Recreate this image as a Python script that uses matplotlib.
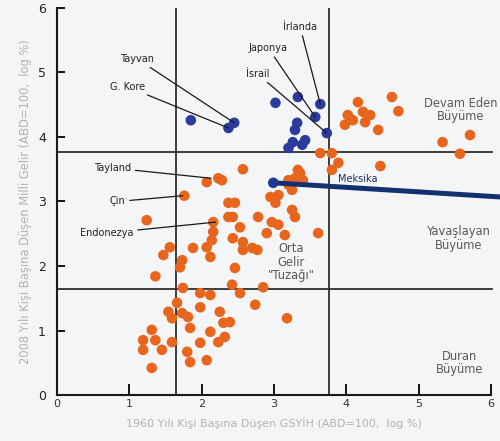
import matplotlib
matplotlib.use("Agg")
import matplotlib.pyplot as plt

plt.rcParams['font.family'] = ['DejaVu Sans']

# Countries that stayed below the "middle income trap" band (orange)
orange_x = [4.16, 4.63, 4.72, 4.02, 3.98, 4.23, 4.33, 4.26, 4.09, 4.44, 5.33, 5.71, 5.57,
            3.64, 3.80, 3.89, 3.80, 4.47, 3.36, 3.20, 3.33, 3.29, 3.40, 3.20, 3.25, 3.06,
            2.95, 3.02, 2.57, 2.28, 2.23, 2.07, 1.76, 2.37, 2.46, 2.37, 2.43, 2.78, 2.97,
            3.06, 3.29, 3.25, 2.53, 2.16, 2.16, 2.14, 1.24, 2.90, 3.15, 3.61, 2.43, 2.57,
            2.70, 2.77, 2.57, 1.56, 1.47, 1.88, 2.07, 2.12, 1.73, 1.70, 1.36, 2.46, 2.42,
            2.53, 2.85, 2.74, 3.18, 1.74, 1.98, 2.12, 1.66, 1.54, 1.59, 1.73, 1.81, 1.84,
            1.98, 2.25, 2.30, 1.31, 1.19, 1.19, 1.36, 1.45, 1.59, 1.31, 1.80, 1.84, 2.07,
            1.98, 2.12, 2.23, 2.32, 2.39]
orange_y = [4.54, 4.62, 4.40, 4.34, 4.19, 4.39, 4.34, 4.23, 4.26, 4.11, 3.92, 4.03, 3.74,
            3.75, 3.75, 3.60, 3.49, 3.55, 3.44, 3.33, 3.49, 3.36, 3.33, 3.26, 3.18, 3.10,
            3.07, 2.98, 3.50, 3.33, 3.36, 3.30, 3.09, 2.98, 2.98, 2.76, 2.76, 2.76, 2.68,
            2.64, 2.76, 2.87, 2.60, 2.68, 2.53, 2.40, 2.71, 2.51, 2.48, 2.51, 2.43, 2.37,
            2.28, 2.25, 2.25, 2.29, 2.17, 2.28, 2.29, 2.14, 2.09, 1.98, 1.84, 1.97, 1.71,
            1.58, 1.67, 1.40, 1.19, 1.66, 1.58, 1.55, 1.43, 1.29, 1.19, 1.27, 1.21, 1.04,
            1.36, 1.29, 1.12, 1.01, 0.85, 0.70, 0.85, 0.70, 0.82, 0.42, 0.67, 0.51, 0.54,
            0.81, 0.98, 0.82, 0.90, 1.13]

# Countries that escaped to high income (blue)
blue_x = [1.85, 2.37, 2.45, 3.02, 3.33, 3.64, 3.57, 3.32, 3.29, 3.73, 3.20, 3.39, 3.26, 3.43]
blue_y = [4.26, 4.14, 4.22, 4.53, 4.62, 4.51, 4.31, 4.22, 4.11, 4.06, 3.83, 3.88, 3.92, 3.95]

# Mexico and its trajectory
mexico_path_x = [2.99, 6.13]
mexico_path_y = [3.29, 3.07]

# Band thresholds
band_x = [1.65, 3.76]
band_y = [1.64, 3.77]

ticks = [0, 1, 2, 3, 4, 5, 6]
tick_labels = ['0', '1', '2', '3', '4', '5', '6']

# Country labels: (text, label position, point)
country_labels = [
    ("Tayvan", (1.11, 5.21), (2.45, 4.22)),
    ("G. Kore", (0.97, 4.78), (2.37, 4.14)),
    ("İrlanda", (3.36, 5.71), (3.64, 4.51)),
    ("Japonya", (2.92, 5.38), (3.57, 4.31)),
    ("İsrail", (2.77, 4.98), (3.73, 4.06)),
    ("Tayland", (0.77, 3.52), (2.13, 3.36)),
    ("Çin", (0.84, 3.00), (1.74, 3.09)),
    ("Endonezya", (0.69, 2.51), (2.19, 2.68)),
]

region_labels = [
    ("Devam Eden\nBüyüme", 5.58, 4.42),
    ("Yavaşlayan\nBüyüme", 5.55, 2.43),
    ("Duran\nBüyüme", 5.57, 0.50),
    ("Orta\nGelir\n\"Tuzağı\"", 3.24, 2.06),
]

bg = '#f4f5f6'
fig = plt.figure(figsize=(5.0, 4.41), dpi=100, facecolor=bg)
ax = fig.add_axes([0.114, 0.1043, 0.868, 0.8776])
ax.set_facecolor(bg)
ax.set_xlim(0, 6)
ax.set_ylim(0, 6)

line_col = '#2e2e2e'
for xv in band_x:
    ax.plot([xv, xv], [0, 6], color=line_col, lw=1.3, zorder=1)
for yv in band_y:
    ax.plot([0, 6.02], [yv, yv], color=line_col, lw=1.3, zorder=1, clip_on=False)

ax.scatter(orange_x, orange_y, s=58, color='#e8651e', edgecolors='none', zorder=3)
ax.scatter(blue_x, blue_y, s=58, color='#2b3c9c', edgecolors='none', zorder=4)

ax.plot(mexico_path_x, mexico_path_y, color='#14306e', lw=3.6, zorder=5,
        solid_capstyle='butt', clip_on=False)
ax.scatter([mexico_path_x[0]], [mexico_path_y[0]], s=58, color='#1f3a8f',
           edgecolors='none', zorder=6)
ax.text(3.88, 3.35, "Meksika", fontsize=7, color='#1e2f66', ha='left', va='center', zorder=6)

for text, (tx, ty), (px, py) in country_labels:
    ax.annotate(text, xy=(px, py), xytext=(tx, ty), fontsize=7, color='#222222',
                ha='center', va='center', zorder=7,
                arrowprops=dict(arrowstyle='-', color='#1a1a1a', lw=0.9,
                                shrinkA=1, shrinkB=0))

for text, tx, ty in region_labels:
    ax.text(tx, ty, text, fontsize=8.3, color='#5a5a5a', ha='center', va='center',
            linespacing=1.05, zorder=7)

for side in ['top', 'right']:
    ax.spines[side].set_visible(False)
for side in ['left', 'bottom']:
    ax.spines[side].set_color('#1a1a1a')
    ax.spines[side].set_linewidth(1.5)

ax.set_xticks(ticks)
ax.set_xticklabels(tick_labels)
ax.set_yticks(ticks)
ax.set_yticklabels(tick_labels)
ax.tick_params(axis='x', direction='in', length=8, width=1.3, labelsize=8,
               labelcolor='#333333', pad=3)
ax.tick_params(axis='y', direction='in', length=6, width=1.3, labelsize=9,
               labelcolor='#222222', pad=8)

ax.set_xlabel("1960 Yılı Kişi Başına Düşen GSYİH (ABD=100,  log %)", fontsize=8,
              color='#b3b3b3', labelpad=6)
ax.set_ylabel("2008 Yılı Kişi Başına Düşen Milli Gelir (ABD=100,  log %)", fontsize=8.3,
              color='#b3b3b3', labelpad=4)

fig.savefig("out.png", dpi=100, facecolor=bg)
